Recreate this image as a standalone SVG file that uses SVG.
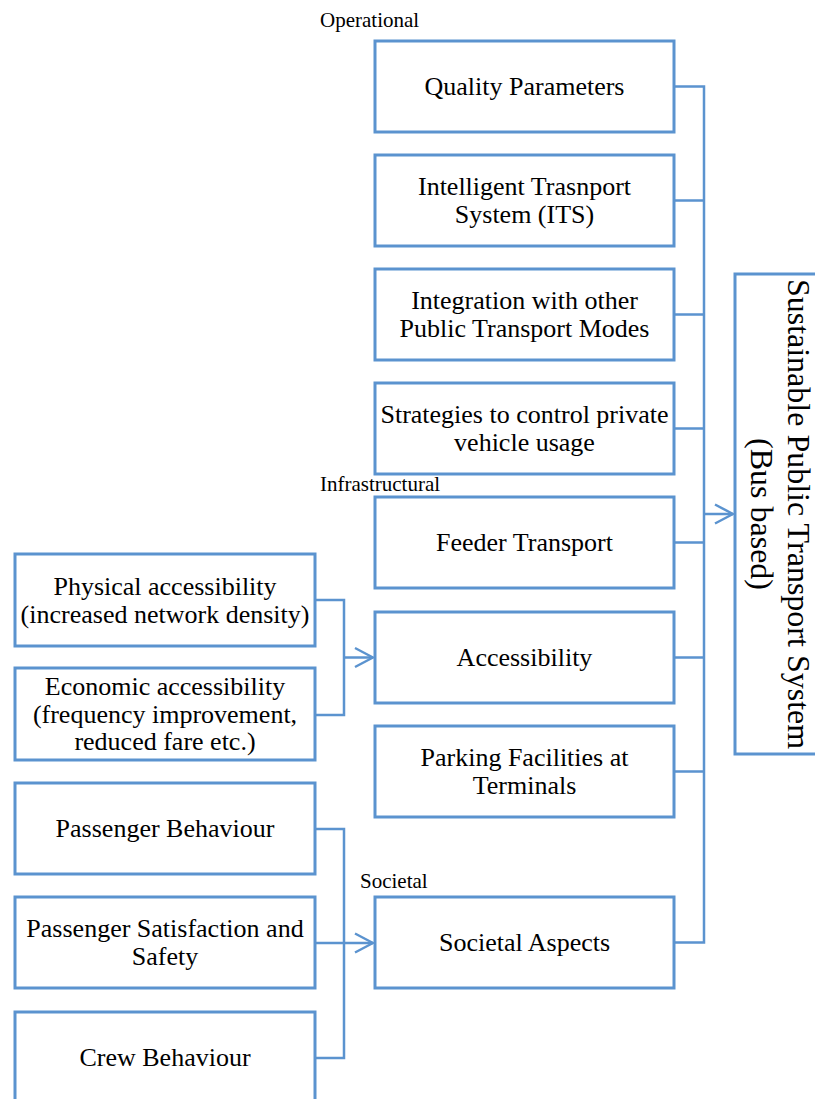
<svg xmlns="http://www.w3.org/2000/svg" width="815" height="1099" viewBox="0 0 815 1099">
<style>
.box{fill:#ffffff;stroke:#5B93CF;stroke-width:3}
.t{font-family:"Liberation Serif","Times New Roman",serif;font-size:26px;fill:#000;text-anchor:middle}
.lbl{font-family:"Liberation Serif","Times New Roman",serif;font-size:21px;fill:#000}
.big{font-family:"Liberation Serif","Times New Roman",serif;font-size:32px;fill:#000;text-anchor:middle}
.c{fill:none;stroke:#5B93CF;stroke-width:2.5}
</style>
<defs>
<marker id="arr" viewBox="-21 -12 23 24" refX="0" refY="0" markerWidth="23" markerHeight="24" markerUnits="userSpaceOnUse" orient="auto">
<path d="M-18,-9.5 L0,0 L-18,9.5" fill="none" stroke="#5B93CF" stroke-width="2.5"/>
</marker>
</defs>
<rect width="815" height="1099" fill="#ffffff"/>
<text class="lbl" x="320" y="27">Operational</text>
<text class="lbl" x="320" y="491">Infrastructural</text>
<text class="lbl" x="360" y="888">Societal</text>
<g id="connectors">
<path class="c" d="M674,86.5 H704 V942.5 H674"/>
<path class="c" d="M674,200.5 H704 M674,314.5 H704 M674,428.5 H704 M674,542.5 H704 M674,657.5 H704 M674,771.5 H704"/>
<path class="c" d="M704,514 H733" marker-end="url(#arr)"/>
<path class="c" d="M315,600 H344 V715 H315"/>
<path class="c" d="M344,657.5 H373" marker-end="url(#arr)"/>
<path class="c" d="M315,829 H344 V1058 H315"/>
<path class="c" d="M315,943 H373" marker-end="url(#arr)"/>
</g>
<g id="n-quality"><rect class="box" x="375" y="41" width="299" height="91"/><text class="t" x="524.5" y="95">Quality Parameters</text></g>
<g id="n-its"><rect class="box" x="375" y="155" width="299" height="91"/><text class="t" x="524.5" y="195">Intelligent Trasnport</text><text class="t" x="524.5" y="223">System (ITS)</text></g>
<g id="n-integration"><rect class="box" x="375" y="269" width="299" height="91"/><text class="t" x="524.5" y="309">Integration with other</text><text class="t" x="524.5" y="337">Public Transport Modes</text></g>
<g id="n-strategies"><rect class="box" x="375" y="383" width="299" height="91"/><text class="t" x="524.5" y="423">Strategies to control private</text><text class="t" x="524.5" y="451">vehicle usage</text></g>
<g id="n-feeder"><rect class="box" x="375" y="497" width="299" height="91"/><text class="t" x="524.5" y="551">Feeder Transport</text></g>
<g id="n-accessibility"><rect class="box" x="375" y="612" width="299" height="91"/><text class="t" x="524.5" y="666">Accessibility</text></g>
<g id="n-parking"><rect class="box" x="375" y="726" width="299" height="91"/><text class="t" x="524.5" y="766">Parking Facilities at</text><text class="t" x="524.5" y="794">Terminals</text></g>
<g id="n-societal"><rect class="box" x="375" y="897" width="299" height="91"/><text class="t" x="524.5" y="951">Societal Aspects</text></g>
<g id="n-system"><rect class="box" x="735" y="274" width="100" height="480"/>
<text class="big" transform="translate(788,514) rotate(90)">Sustainable Public Transport System</text>
<text class="big" transform="translate(751,514) rotate(90)">(Bus based)</text></g>
<g id="n-physical"><rect class="box" x="15" y="554" width="300" height="92"/><text class="t" x="165" y="595">Physical accessibility</text><text class="t" x="165" y="623">(increased network density)</text></g>
<g id="n-economic"><rect class="box" x="15" y="668" width="300" height="92"/><text class="t" x="165" y="695">Economic accessibility</text><text class="t" x="165" y="723">(frequency improvement,</text><text class="t" x="165" y="750">reduced fare etc.)</text></g>
<g id="n-pbehaviour"><rect class="box" x="15" y="783" width="300" height="91"/><text class="t" x="165" y="837">Passenger Behaviour</text></g>
<g id="n-psatisfaction"><rect class="box" x="15" y="897" width="300" height="91"/><text class="t" x="165" y="937">Passenger Satisfaction and</text><text class="t" x="165" y="965">Safety</text></g>
<g id="n-crew"><rect class="box" x="15" y="1012" width="300" height="92"/><text class="t" x="165" y="1066">Crew Behaviour</text></g>
</svg>
